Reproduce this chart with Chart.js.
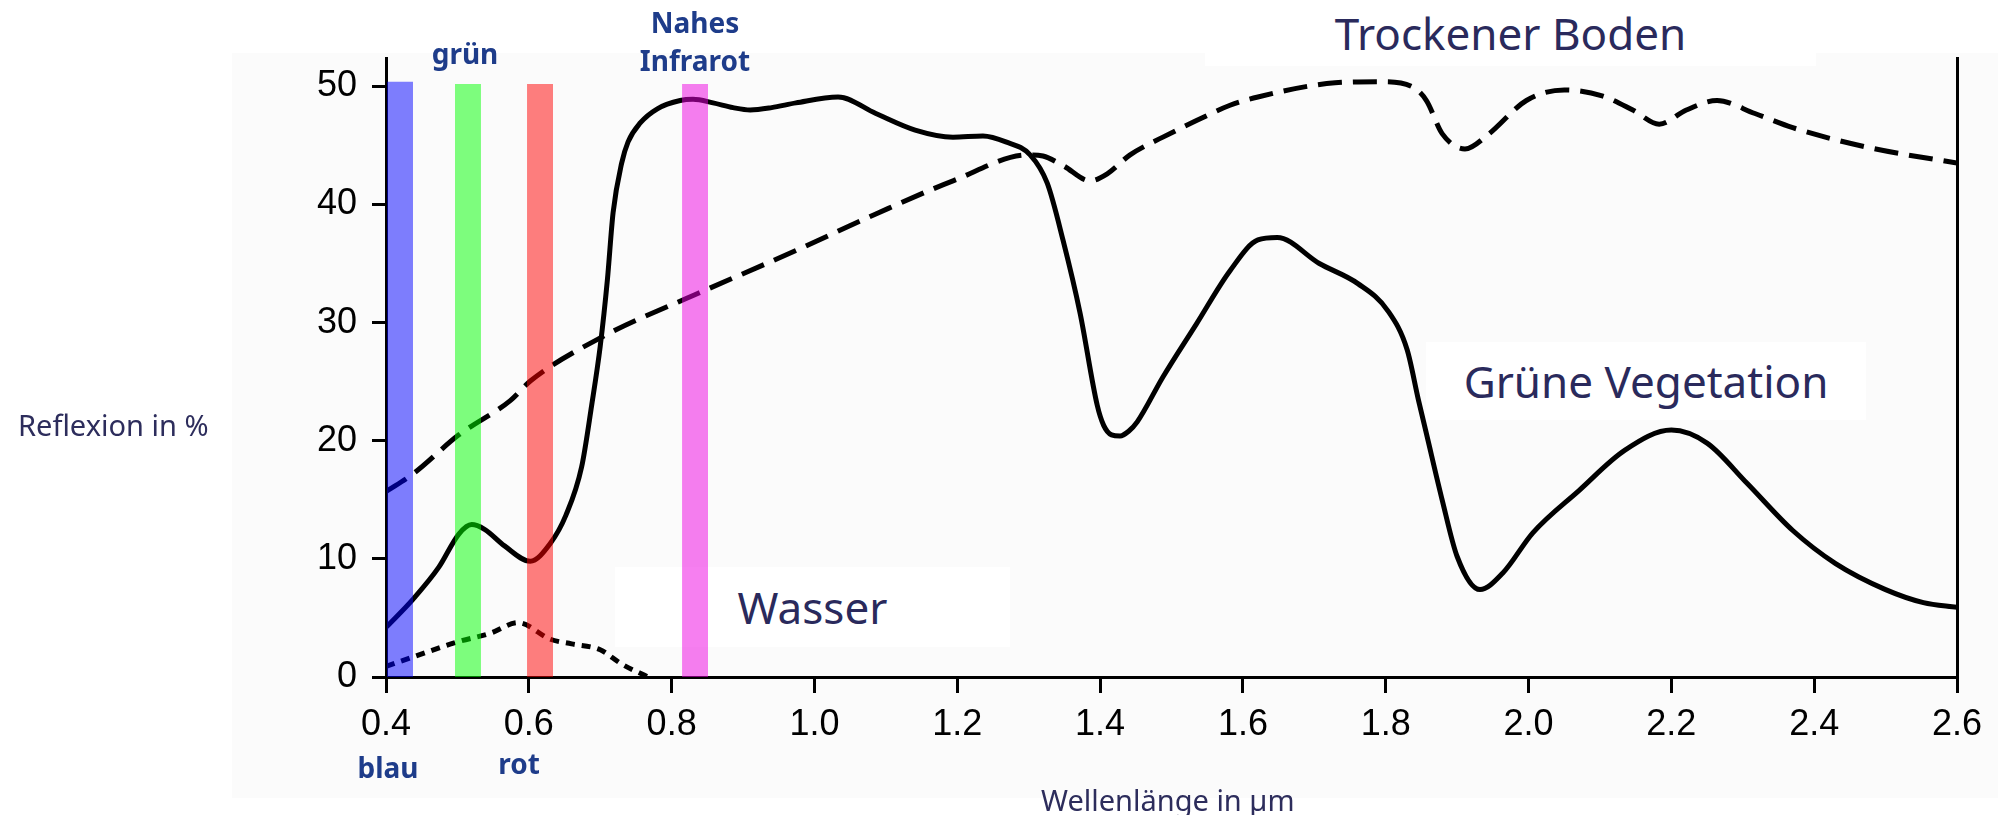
<!DOCTYPE html>
<html>
<head>
<meta charset="utf-8">
<script src="https://cdn.jsdelivr.net/npm/chart.js@4/dist/chart.umd.min.js"></script>
<style>
  html, body { margin: 0; padding: 0; background: #fff; }
  #page { position: relative; width: 1998px; height: 815px; overflow: hidden; font-family: "Noto Sans", sans-serif; }
  #scan { position: absolute; left: 232px; top: 53px; width: 1766px; height: 745px; background: #fbfbfb; }
  .box { position: absolute; background: #fff; display: flex; align-items: center; justify-content: center;
         color: #2a2a5c; font-size: 44px; white-space: nowrap; }
  #wrap { position: absolute; left: 0; top: 0; width: 1998px; height: 815px; }
  .band { position: absolute; color: #1e3c8a; font-weight: bold; font-size: 28px; text-align: center;
          white-space: nowrap; transform: translate(-50%, -50%); line-height: 38px; }
  .axt { position: absolute; color: #2d2d5c; font-size: 29px; white-space: nowrap; }
</style>
</head>
<body>
<div id="page">
  <div id="scan"></div>
  <div class="box" style="left:1205px;top:0;width:611px;height:66px;">Trockener Boden</div>
  <div class="box" style="left:1426px;top:342px;width:440px;height:78px;">Grüne Vegetation</div>
  <div class="box" style="left:615px;top:567px;width:395px;height:80px;">Wasser</div>
  <div id="wrap"><canvas id="chart"></canvas></div>
  <div class="band" style="left:465px;top:53px;">grün</div>
  <div class="band" style="left:695px;top:41px;">Nahes<br>Infrarot</div>
  <div class="band" style="left:388px;top:767px;">blau</div>
  <div class="band" style="left:519px;top:763px;">rot</div>
  <div class="axt" style="left:18px;top:405px;">Reflexion in %</div>
  <div class="axt" style="left:1041px;top:780px;">Wellenlänge in µm</div>
</div>
<script>
// Wellenlänge (µm) und Reflexion (%) je Kurve
const vegWl = [0.40, 0.438, 0.474, 0.502, 0.52, 0.538, 0.566, 0.602, 0.63, 0.652, 0.674, 0.688, 0.70, 0.71, 0.718,
  0.73, 0.739, 0.756, 0.78, 0.812, 0.83, 0.858, 0.886, 0.91, 0.94, 0.974, 1.033, 1.086, 1.141, 1.194, 1.236, 1.268,
  1.302, 1.326, 1.348, 1.372, 1.396, 1.405, 1.416, 1.428, 1.44, 1.452, 1.488, 1.535, 1.582, 1.621, 1.648, 1.707,
  1.761, 1.803, 1.83, 1.846, 1.857, 1.879, 1.90, 1.932, 1.964, 2.006, 2.071, 2.135, 2.20, 2.25, 2.306, 2.37, 2.43,
  2.50, 2.553, 2.60];
const vegR = [4.2, 6.6, 9.3, 12.1, 12.9, 12.5, 11.1, 9.8, 11.3, 13.7, 17.8, 23.0, 28.0, 33.6, 39.3,
  43.5, 45.3, 46.9, 48.1, 48.8, 48.9, 48.6, 48.2, 48.0, 48.2, 48.6, 49.1, 47.7, 46.3, 45.7, 45.8, 45.3,
  44.2, 41.8, 37.0, 30.8, 23.0, 21.3, 20.5, 20.4, 20.8, 21.6, 25.4, 29.9, 34.4, 37.0, 37.2, 35.0,
  33.3, 31.0, 27.7, 23.4, 20.6, 15.0, 10.2, 7.4, 8.8, 12.2, 15.8, 19.2, 20.9, 19.8, 16.4, 12.4, 9.6,
  7.4, 6.3, 5.9];

const soilWl = [0.40, 0.438, 0.502, 0.574, 0.603, 0.703, 0.838, 0.974, 1.086, 1.194, 1.30, 1.32, 1.348, 1.386,
  1.41, 1.442, 1.488, 1.535, 1.582, 1.621, 1.729, 1.794, 1.836, 1.857, 1.879, 1.911, 1.943, 1.997, 2.05, 2.103,
  2.146, 2.183, 2.221, 2.264, 2.317, 2.37, 2.478, 2.60];
const soilR = [15.7, 17.2, 20.5, 23.4, 25.1, 28.8, 32.5, 36.1, 39.2, 42.0, 44.2, 44.1, 43.3, 42.0,
  42.6, 44.2, 45.7, 47.1, 48.4, 49.1, 50.3, 50.4, 50.0, 48.8, 46.0, 44.7, 45.9, 48.8, 49.7, 49.2,
  48.0, 46.8, 48.0, 48.8, 47.7, 46.5, 44.8, 43.5];

const waterWl = [0.40, 0.438, 0.502, 0.546, 0.585, 0.63, 0.66, 0.70, 0.73, 0.767];
const waterR = [0.9, 1.7, 3.0, 3.7, 4.6, 3.2, 2.8, 2.3, 1.1, 0];

// Spektralbänder
const bandStart = [0.4014, 0.4966, 0.5975, 0.8146];
const bandEnd = [0.4378, 0.533, 0.634, 0.851];
const bandTop = [50.4, 50.2, 50.2, 50.2];
const bandColors = ['rgba(0,0,255,0.5)', 'rgba(0,255,0,0.5)', 'rgba(255,0,0,0.5)', 'rgba(238,0,226,0.5)'];

const xTicks = [0.4, 0.6, 0.8, 1.0, 1.2, 1.4, 1.6, 1.8, 2.0, 2.2, 2.4, 2.6];
const yTicks = [0, 10, 20, 30, 40, 50];

function pts(xs, ys) {
    return xs.map((x, i) => ({ x: x, y: ys[i] }));
}

const curveBase = { type: 'line', pointRadius: 0, borderColor: '#000', fill: false,
                    cubicInterpolationMode: 'monotone', order: 1 };

const datasets = [
    Object.assign({}, curveBase, { label: 'Grüne Vegetation', data: pts(vegWl, vegR), borderWidth: 5 }),
    Object.assign({}, curveBase, { label: 'Trockener Boden', data: pts(soilWl, soilR), borderWidth: 5, borderDash: [24, 11] }),
    Object.assign({}, curveBase, { label: 'Wasser', data: pts(waterWl, waterR), borderWidth: 5, borderDash: [9, 7] })
];

bandStart.forEach((s, i) => {
    datasets.push({
        type: 'line',
        data: [{ x: s, y: bandTop[i] }, { x: bandEnd[i], y: bandTop[i] }],
        borderWidth: 0,
        pointRadius: 0,
        fill: 'origin',
        backgroundColor: bandColors[i],
        order: 0
    });
});

const axisFont = { family: '"Liberation Sans", Arial, sans-serif', size: 36 };

new Chart(document.getElementById('chart'), {
    type: 'line',
    data: { datasets: datasets },
    options: {
        responsive: true,
        maintainAspectRatio: false,
        animation: false,
        layout: { padding: { left: 0, top: 58, right: 41, bottom: 0 } },
        plugins: { legend: { display: false }, tooltip: { enabled: false } },
        scales: {
            x: {
                type: 'linear',
                min: 0.4,
                max: 2.6,
                afterBuildTicks: scale => { scale.ticks = xTicks.map(v => ({ value: v })); },
                afterFit: scale => { scale.height = 138; },
                ticks: {
                    color: '#000', font: axisFont, padding: 10, autoSkip: false, maxRotation: 0,
                    callback: v => Number(v).toFixed(1)
                },
                grid: { drawOnChartArea: false, drawTicks: true, tickLength: 16, color: '#000', lineWidth: 3 },
                border: { display: true, color: '#000', width: 3 }
            },
            y: {
                min: 0,
                max: 52.4,
                afterBuildTicks: scale => { scale.ticks = yTicks.map(v => ({ value: v })); },
                afterFit: scale => { scale.width = 386; },
                ticks: { color: '#000', font: axisFont, padding: 15 },
                grid: { drawOnChartArea: false, drawTicks: true, tickLength: 14, color: '#000', lineWidth: 3 },
                border: { display: true, color: '#000', width: 3 }
            },
            y2: {
                position: 'right',
                min: 0,
                max: 52.4,
                afterFit: scale => { scale.width = 0; },
                ticks: { display: false },
                grid: { display: false },
                border: { display: true, color: '#000', width: 3 }
            }
        }
    }
});
</script>
</body>
</html>
